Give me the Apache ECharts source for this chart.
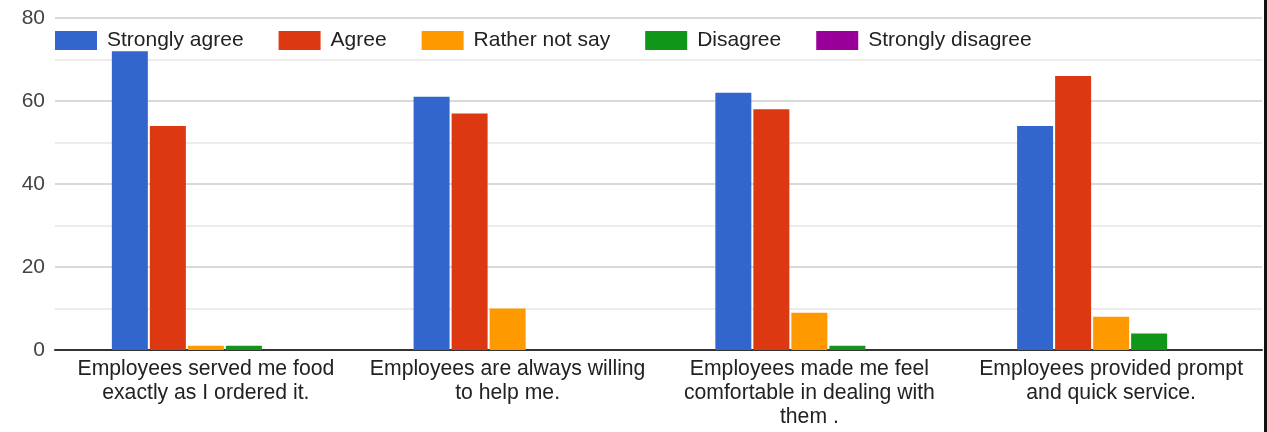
<!DOCTYPE html>
<html><head><meta charset="utf-8">
<script src="https://cdn.jsdelivr.net/npm/echarts@6/dist/echarts.min.js"></script>
<style>html,body{margin:0;padding:0;background:#fff}#c{width:1267px;height:432px}</style>
</head><body><div id="c"></div>
<script>
const categories = [
  "Employees served me food\nexactly as I ordered it.",
  "Employees are always willing\nto help me.",
  "Employees made me feel\ncomfortable in dealing with\nthem .",
  "Employees provided prompt\nand quick service."
];
const seriesNames = ["Strongly agree","Agree","Rather not say","Disagree","Strongly disagree"];
const stronglyAgree = [72, 61, 62, 54];
const agree = [54, 57, 58, 66];
const ratherNotSay = [1, 10, 9, 8];
const disagree = [1, 0, 1, 4];
const stronglyDisagree = [0, 0, 0, 0];
const colors = ["#3366cc","#dc3912","#ff9900","#109618","#990099"];
const values = [stronglyAgree, agree, ratherNotSay, disagree, stronglyDisagree];

const chart = echarts.init(document.getElementById('c'), null, {renderer:'canvas'});
const font = 'Liberation Sans, Arial, sans-serif';
chart.setOption({
  animation: false,
  color: colors,
  textStyle: {fontFamily: font},
  legend: {
    left: 55, top: 30, padding: 0, itemWidth: 42, itemHeight: 19, itemGap: 35,
    icon: 'rect',
    textStyle: {fontSize: 21, color: '#222', fontFamily: font, padding: [0,0,0,5]},
    data: seriesNames
  },
  grid: {left: 55, right: 5, top: 18, bottom: 82, containLabel: false},
  xAxis: {
    type: 'category', data: categories,
    axisTick: {show: false},
    axisLine: {lineStyle: {color: '#333', width: 2}},
    axisLabel: {fontSize: 21.2, color: '#222', lineHeight: 24, margin: 7, interval: 0, fontFamily: font}
  },
  yAxis: {
    type: 'value', min: 0, max: 80, interval: 10,
    axisLine: {show: false}, axisTick: {show: false},
    axisLabel: {fontSize: 21, color: '#444', margin: 10, fontFamily: font,
      formatter: v => (v % 20 === 0 ? String(v) : '')},
    splitLine: {lineStyle: {color: ['#cccccc','#e6e6e6'], width: 1.5}}
  },
  series: seriesNames.map((n, i) => ({
    name: n, type: 'bar', data: values[i],
    barWidth: 36, barGap: '5.6%',
    itemStyle: {color: colors[i]}
  })),
  graphic: [{type: 'rect', right: 0, top: 0, shape: {width: 3, height: 432}, style: {fill: '#111'}}]
});
</script></body></html>
